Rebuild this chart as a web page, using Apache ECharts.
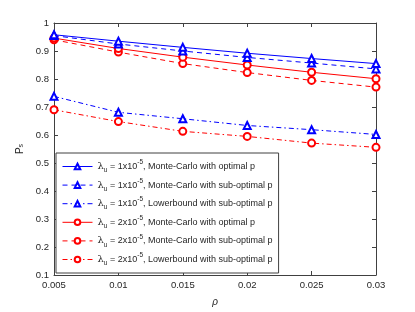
<!DOCTYPE html>
<html><head><meta charset="utf-8">
<script src="https://cdn.jsdelivr.net/npm/echarts@6/dist/echarts.min.js"></script>
<style>html,body{margin:0;padding:0;background:#fff}#c{width:415px;height:312px}</style>
</head><body><div id="c"></div>
<script>
const rho = [0.005, 0.01, 0.015, 0.02, 0.025, 0.03];
const blueMCopt = [0.958, 0.935, 0.913, 0.892, 0.873, 0.855];
const blueMCsub = [0.955, 0.925, 0.900, 0.877, 0.857, 0.836];
const blueLBsub = [0.738, 0.681, 0.658, 0.634, 0.619, 0.602];
const redMCopt = [0.946, 0.909, 0.878, 0.850, 0.824, 0.801];
const redMCsub = [0.940, 0.896, 0.855, 0.823, 0.795, 0.771];
const redLBsub = [0.690, 0.648, 0.613, 0.595, 0.571, 0.556];
const lambdas = ['1', '1', '1', '2', '2', '2'];
const descs = ['Monte-Carlo with optimal p', 'Monte-Carlo with sub-optimal p', 'Lowerbound with sub-optimal p',
               'Monte-Carlo with optimal p', 'Monte-Carlo with sub-optimal p', 'Lowerbound with sub-optimal p'];
const yTicks = [0.1, 1, 0.1]; // min, max, step
const xTicks = [0.005, 0.03, 0.005];

const BLUE = '#0000ff', RED = '#ff0000', AX = '#404040', TXT = '#262626';
const dashed = [5, 4], dashdot = [5, 3, 1.5, 3];
const specs = [
  [blueMCopt, BLUE, 'solid', 'emptyTriangle'],
  [blueMCsub, BLUE, dashed, 'emptyTriangle'],
  [blueLBsub, BLUE, dashdot, 'emptyTriangle'],
  [redMCopt, RED, 'solid', 'emptyCircle'],
  [redMCsub, RED, dashed, 'emptyCircle'],
  [redLBsub, RED, dashdot, 'emptyCircle'],
];
const names = specs.map((s, i) => 'λu = ' + lambdas[i] + 'x10-5, ' + descs[i] + ' #' + i);
const series = specs.map((s, i) => ({
  name: names[i], type: 'line',
  data: rho.map((x, j) => [x, s[0][j]]),
  symbol: s[3], symbolSize: 7,
  lineStyle: { color: s[1], width: 1, type: s[2] },
  itemStyle: { color: s[1], borderColor: s[1], borderWidth: 0.8 },
  emphasis: { disabled: true }, animation: false, z: 10 - i
}));

const fam = '"Liberation Sans", Arial, sans-serif';
const ax = (pos, show, range) => ({
  type: 'value', position: pos, min: range[0], max: range[1], interval: range[2],
  axisLine: { show: true, onZero: false, lineStyle: { color: AX, width: 1 } },
  axisTick: { show: true, inside: true, length: 4, lineStyle: { color: AX } },
  axisLabel: { show: show, color: TXT, fontSize: 9.5, fontFamily: fam, margin: 5,
    formatter: v => String(+v.toFixed(3)) },
  splitLine: { show: false }
});

const chart = echarts.init(document.getElementById('c'), null, { renderer: 'canvas' });
chart.setOption({
  animation: false,
  backgroundColor: '#fff',
  grid: { left: 54, right: 39, top: 23, bottom: 35, containLabel: false },
  xAxis: [
    Object.assign(ax('bottom', true, xTicks), { name: 'ρ', nameLocation: 'middle', nameGap: 22,
      nameTextStyle: { color: TXT, fontSize: 10, fontStyle: 'italic', fontFamily: fam } }),
    ax('top', false, xTicks)
  ],
  yAxis: [
    Object.assign(ax('left', true, yTicks), { name: '{p|P}{s|s}', nameLocation: 'middle', nameGap: 18,
      nameTextStyle: { color: TXT, fontFamily: fam,
        rich: { p: { fontSize: 10, color: TXT, fontFamily: fam }, s: { fontSize: 7, color: TXT, fontFamily: fam, verticalAlign: 'bottom', lineHeight: 10 } } } }),
    ax('right', false, yTicks)
  ],
  legend: {
    orient: 'vertical', left: 56, top: 153, width: 216,
    padding: [6, 6, 6, 6], itemGap: 3.6, itemWidth: 30, itemHeight: 7,
    backgroundColor: '#fff', borderColor: AX, borderWidth: 1,
    selectedMode: false,
    lineStyle: { width: 1 },
    itemStyle: { borderWidth: 0.8 },
    data: names,
    formatter: name => {
      const i = names.indexOf(name);
      return '{l|λ}{s|u}{t| = ' + lambdas[i] + 'x10}{p|-5}{t|, ' + descs[i] + '}';
    },
    textStyle: {
      color: TXT, fontSize: 9, fontFamily: fam, lineHeight: 15,
      rich: {
        t: { fontSize: 9, color: TXT, fontFamily: fam, lineHeight: 15 },
        l: { fontSize: 10, color: TXT, fontFamily: '"DejaVu Serif", serif', lineHeight: 15 },
        s: { fontSize: 6.5, color: TXT, fontFamily: fam, verticalAlign: 'bottom', lineHeight: 9 },
        p: { fontSize: 6.5, color: TXT, fontFamily: fam, verticalAlign: 'top', lineHeight: 11 }
      }
    }
  },
  series: series
});
</script></body></html>
